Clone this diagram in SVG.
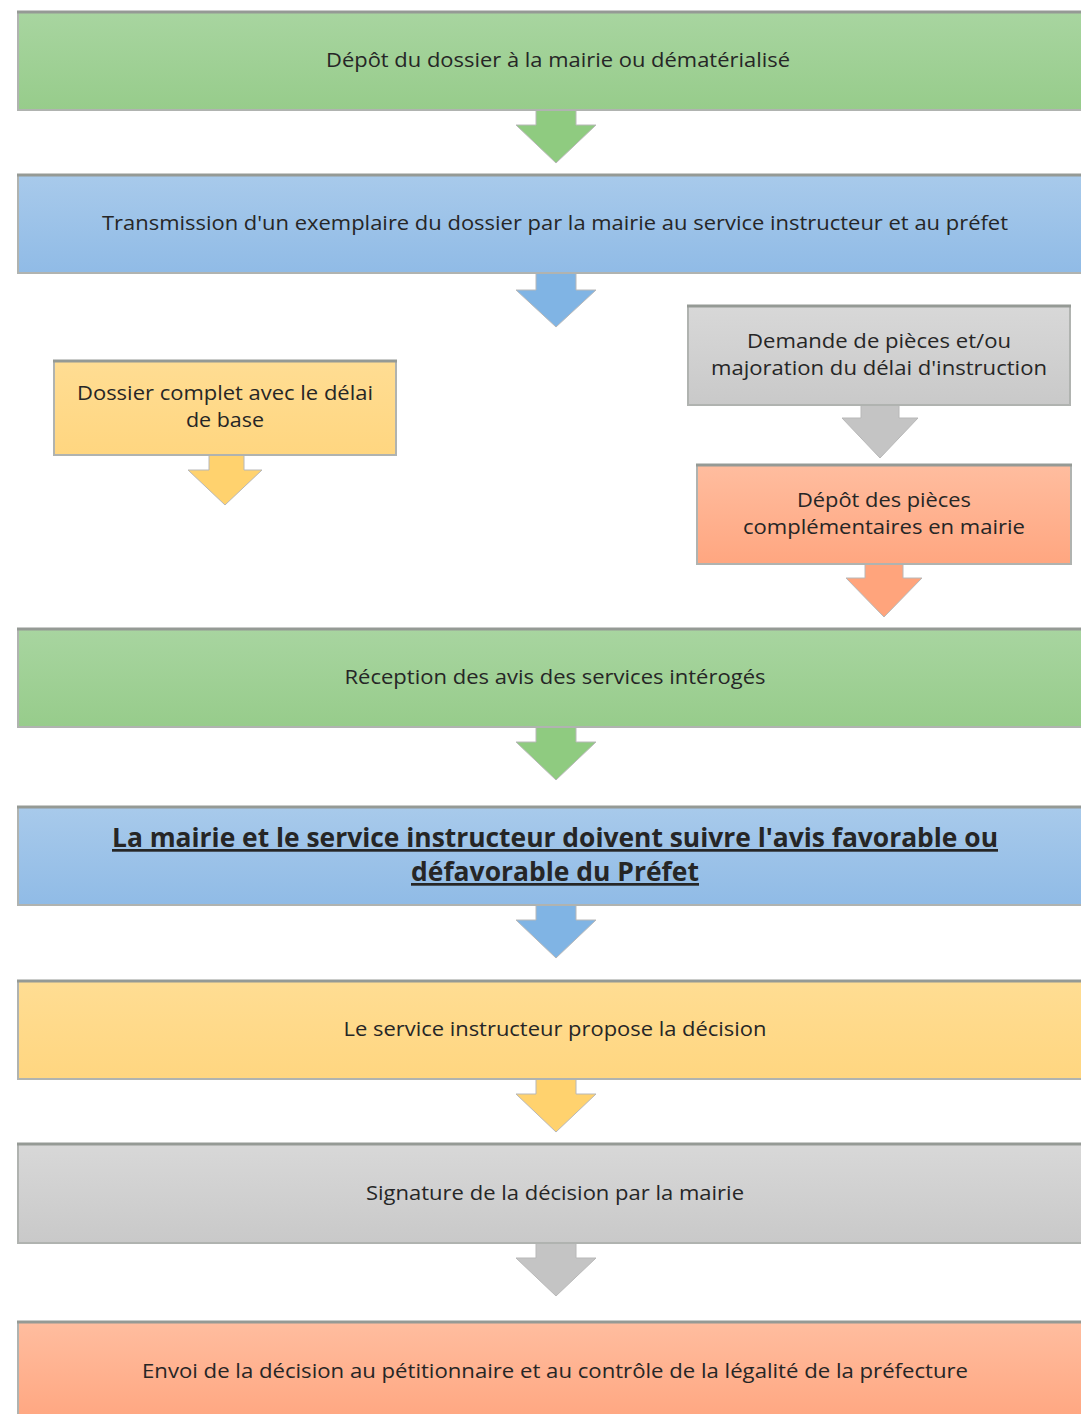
<svg xmlns="http://www.w3.org/2000/svg" width="1081" height="1414" viewBox="0 0 1081 1414">
<defs>
<linearGradient id="gGreen" x1="0" y1="0" x2="0" y2="1"><stop offset="0" stop-color="#a8d5a0"/><stop offset="1" stop-color="#97cc8b"/></linearGradient>
<linearGradient id="gBlue" x1="0" y1="0" x2="0" y2="1"><stop offset="0" stop-color="#a8caeb"/><stop offset="1" stop-color="#90bbe6"/></linearGradient>
<linearGradient id="gYellow" x1="0" y1="0" x2="0" y2="1"><stop offset="0" stop-color="#ffdd93"/><stop offset="1" stop-color="#ffd680"/></linearGradient>
<linearGradient id="gGray" x1="0" y1="0" x2="0" y2="1"><stop offset="0" stop-color="#d8d8d8"/><stop offset="1" stop-color="#c9c9c9"/></linearGradient>
<linearGradient id="gSalmon" x1="0" y1="0" x2="0" y2="1"><stop offset="0" stop-color="#ffbd9f"/><stop offset="1" stop-color="#ffa680"/></linearGradient>
</defs>
<style>
.box{stroke:#b0b3b0;stroke-width:2}
.top{stroke:#959a95;stroke-width:3}
.arr{stroke:#b8b8b8;stroke-width:1}
.t{font-family:"Open Sans","Noto Sans",sans-serif;font-size:20.5px;fill:#262626;text-anchor:middle}
.tb{font-family:"Open Sans","Noto Sans",sans-serif;font-size:27px;font-weight:bold;fill:#262626;text-anchor:middle;text-decoration:underline}
.green{fill:url(#gGreen)} .blue{fill:url(#gBlue)} .yellow{fill:url(#gYellow)} .gray{fill:url(#gGray)} .salmon{fill:url(#gSalmon)}
.agreen{fill:#8fcb80} .ablue{fill:#80b4e4} .ayellow{fill:#ffd26e} .agray{fill:#c4c4c4} .asalmon{fill:#ffa47c}
</style>
<rect width="1081" height="1414" fill="#ffffff"/>

<g id="connectors">
<path class="arr agreen" d="M536,110 L536,125 L516,125 L556,163 L596,125 L576,125 L576,110 Z"/>
<path class="arr ablue" d="M536,273 L536,290 L516,290 L556,327 L596,290 L576,290 L576,273 Z"/>
<path class="arr ayellow" d="M209,455 L209,470 L188,470 L225,505 L262,470 L244,470 L244,455 Z"/>
<path class="arr agray" d="M861,405 L861,418 L842,418 L880,458 L918,418 L899,418 L899,405 Z"/>
<path class="arr asalmon" d="M865,564 L865,578 L846,578 L884,617 L922,578 L903,578 L903,564 Z"/>
<path class="arr agreen" d="M536,727 L536,742 L516,742 L556,780 L596,742 L576,742 L576,727 Z"/>
<path class="arr ablue" d="M536,905 L536,920 L516,920 L556,958 L596,920 L576,920 L576,905 Z"/>
<path class="arr ayellow" d="M536,1079 L536,1094 L516,1094 L556,1132 L596,1094 L576,1094 L576,1079 Z"/>
<path class="arr agray" d="M536,1243 L536,1258 L516,1258 L556,1296 L596,1258 L576,1258 L576,1243 Z"/>
</g>

<g id="n1">
<rect class="box green" x="18" y="12" width="1075" height="98"/>
<line class="top" x1="17" y1="12" x2="1081" y2="12"/>
<text class="t" x="558" y="67" textLength="464" lengthAdjust="spacingAndGlyphs">Dépôt du dossier à la mairie ou dématérialisé</text>
</g>
<g id="n2">
<rect class="box blue" x="18" y="175" width="1075" height="98"/>
<line class="top" x1="17" y1="175" x2="1081" y2="175"/>
<text class="t" x="555" y="230" textLength="906" lengthAdjust="spacingAndGlyphs">Transmission d'un exemplaire du dossier par la mairie au service instructeur et au préfet</text>
</g>
<g id="n3">
<rect class="box yellow" x="54" y="361" width="342" height="94"/>
<line class="top" x1="53" y1="361" x2="397" y2="361"/>
<text class="t" x="225" y="400" textLength="296" lengthAdjust="spacingAndGlyphs">Dossier complet avec le délai</text>
<text class="t" x="225" y="427" textLength="78" lengthAdjust="spacingAndGlyphs">de base</text>
</g>
<g id="n4">
<rect class="box gray" x="688" y="306" width="382" height="99"/>
<line class="top" x1="687" y1="306" x2="1071" y2="306"/>
<text class="t" x="879" y="348" textLength="264" lengthAdjust="spacingAndGlyphs">Demande de pièces et/ou</text>
<text class="t" x="879" y="375" textLength="336" lengthAdjust="spacingAndGlyphs">majoration du délai d'instruction</text>
</g>
<g id="n5">
<rect class="box salmon" x="697" y="465" width="374" height="99"/>
<line class="top" x1="696" y1="465" x2="1072" y2="465"/>
<text class="t" x="884" y="507" textLength="174" lengthAdjust="spacingAndGlyphs">Dépôt des pièces</text>
<text class="t" x="884" y="534" textLength="282" lengthAdjust="spacingAndGlyphs">complémentaires en mairie</text>
</g>
<g id="n6">
<rect class="box green" x="18" y="629" width="1075" height="98"/>
<line class="top" x1="17" y1="629" x2="1081" y2="629"/>
<text class="t" x="555" y="684" textLength="421" lengthAdjust="spacingAndGlyphs">Réception des avis des services intérogés</text>
</g>
<g id="n7">
<rect class="box blue" x="18" y="807" width="1075" height="98"/>
<line class="top" x1="17" y1="807" x2="1081" y2="807"/>
<text class="tb" x="555" y="847" textLength="886" lengthAdjust="spacingAndGlyphs">La mairie et le service instructeur doivent suivre l'avis favorable ou</text>
<text class="tb" x="555" y="881" textLength="288" lengthAdjust="spacingAndGlyphs">défavorable du Préfet</text>
</g>
<g id="n8">
<rect class="box yellow" x="18" y="981" width="1075" height="98"/>
<line class="top" x1="17" y1="981" x2="1081" y2="981"/>
<text class="t" x="555" y="1036" textLength="423" lengthAdjust="spacingAndGlyphs">Le service instructeur propose la décision</text>
</g>
<g id="n9">
<rect class="box gray" x="18" y="1144" width="1075" height="99"/>
<line class="top" x1="17" y1="1144" x2="1081" y2="1144"/>
<text class="t" x="555" y="1200" textLength="378" lengthAdjust="spacingAndGlyphs">Signature de la décision par la mairie</text>
</g>
<g id="n10">
<rect class="box salmon" x="18" y="1322" width="1075" height="100"/>
<line class="top" x1="17" y1="1322" x2="1081" y2="1322"/>
<text class="t" x="555" y="1378" textLength="826" lengthAdjust="spacingAndGlyphs">Envoi de la décision au pétitionnaire et au contrôle de la légalité de la préfecture</text>
</g>
</svg>
